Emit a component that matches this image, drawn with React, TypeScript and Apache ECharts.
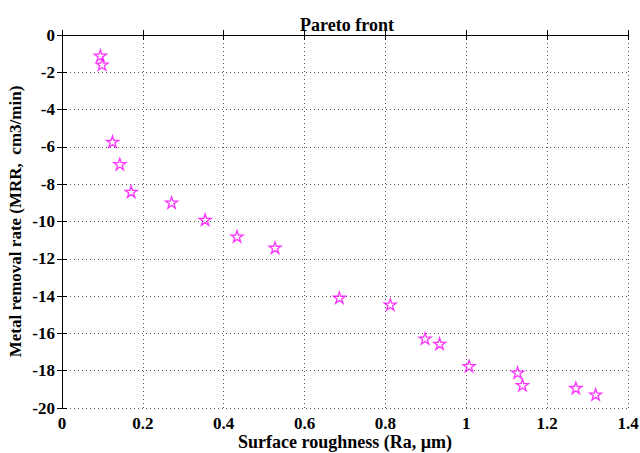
import React, { useEffect, useRef } from "react";
import * as echarts from "echarts";

const surfaceRoughness = [0.095, 0.099, 0.125, 0.143, 0.171, 0.271, 0.354, 0.433, 0.527, 0.686, 0.812, 0.898, 0.934, 1.007, 1.127, 1.139, 1.271, 1.32];
const mrr = [-1.1, -1.58, -5.72, -6.92, -8.4, -8.98, -9.9, -10.8, -11.4, -14.08, -14.45, -16.27, -16.55, -17.75, -18.1, -18.77, -18.92, -19.27];

const xTicks = { min: 0, max: 1.4, interval: 0.2 };
const yTicks = { min: -20, max: 0, interval: 2 };

const STAR = "path://M50,0 L61.2,34.5 L97.6,34.5 L68.2,55.9 L79.4,90.5 L50,69.1 L20.6,90.5 L31.8,55.9 L2.4,34.5 L38.8,34.5 Z";

export default function App() {
  const ref = useRef<HTMLDivElement>(null);
  useEffect(() => {
    if (!ref.current) return;
    const chart = echarts.init(ref.current, null, { renderer: "svg" });
    const font = "Liberation Serif";
    const axisLine = { show: true, lineStyle: { color: "#000", width: 1 } };
    const tick = { show: true, inside: true, length: 5, lineStyle: { color: "#000" } };
    const split = { show: true, lineStyle: { color: "#555", type: [1, 3] as any, width: 1 } };
    chart.setOption({
      animation: false,
      backgroundColor: "#fff",
      title: {
        text: "Pareto front",
        left: 342,
        top: 11,
        textAlign: "center",
        textStyle: { fontFamily: font, fontWeight: "bold", fontSize: 18, color: "#000" },
      },
      grid: { left: 62, right: 12, top: 35, bottom: 45, outerBoundsMode: "none", containLabel: false } as any,
      xAxis: [
        {
          type: "value",
          ...xTicks,
          position: "bottom",
          name: "Surface roughness (Ra, \u00b5m)",
          nameLocation: "middle",
          nameGap: 25,
          nameMoveOverlap: false,
          nameTextStyle: { fontFamily: font, fontWeight: "bold", fontSize: 18, lineHeight: 18, color: "#000", verticalAlign: "top" },
          axisLine,
          axisTick: tick,
          axisLabel: { fontFamily: font, fontWeight: "bold", fontSize: 17, lineHeight: 16, color: "#000", margin: 7 },
          splitLine: split,
        } as any,
        {
          type: "value",
          ...xTicks,
          position: "top",
          axisLine,
          axisTick: tick,
          axisLabel: { show: false },
          splitLine: { show: false },
        },
      ],
      yAxis: [
        {
          type: "value",
          ...yTicks,
          position: "left",
          name: "Metal removal rate (MRR,  cm3/min)",
          nameLocation: "middle",
          nameGap: 38,
          nameMoveOverlap: false,
          nameTextStyle: { fontFamily: font, fontWeight: "bold", fontSize: 17, color: "#000" },
          axisLine,
          axisTick: tick,
          axisLabel: { fontFamily: font, fontWeight: "bold", fontSize: 17, color: "#000", margin: 7 },
          splitLine: split,
        } as any,
        {
          type: "value",
          ...yTicks,
          position: "right",
          axisLine,
          axisTick: tick,
          axisLabel: { show: false },
          splitLine: { show: false },
        },
      ],
      series: [
        {
          type: "scatter",
          xAxisIndex: 0,
          yAxisIndex: 0,
          data: surfaceRoughness.map((x, i) => [x, mrr[i]]),
          symbol: STAR,
          symbolSize: 12,
          symbolKeepAspect: true,
          itemStyle: { color: "rgba(255,255,255,0)", borderColor: "#ff00ff", borderWidth: 1.3 },
        },
      ],
    });
    return () => chart.dispose();
  }, []);
  return <div ref={ref} style={{ position: "absolute", left: 0, top: 0, width: 640, height: 453 }} />;
}
